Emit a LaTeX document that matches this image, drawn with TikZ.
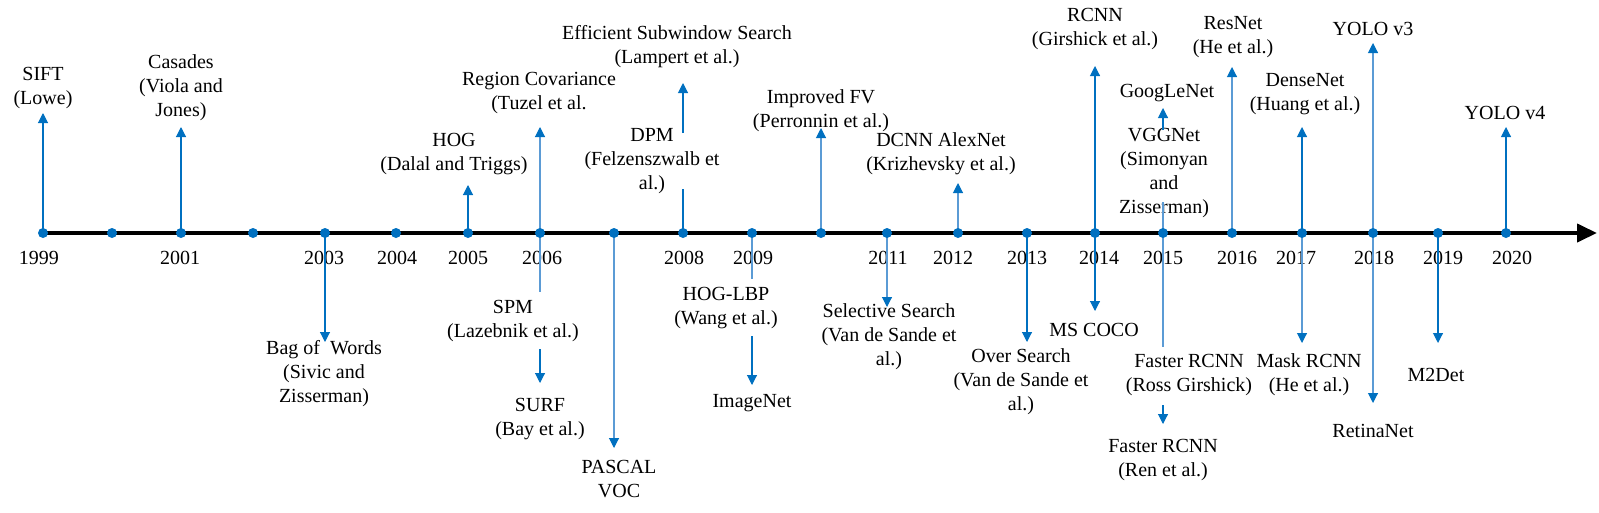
\documentclass[tikz,border=0pt]{standalone}
\usepackage{fontspec}
\setmainfont{Liberation Serif}
\usetikzlibrary{arrows.meta}
\definecolor{dotblue}{HTML}{0070C0}
\definecolor{lightblue}{HTML}{5B9BD5}
\begin{document}
\begin{tikzpicture}[x=1pt,y=-1pt,
  lbl/.style={font=\fontsize{20}{24}\selectfont, align=center, inner sep=0pt},
  yr/.style={font=\fontsize{20}{24}\selectfont, inner sep=0pt},
  dotnode/.style={circle, fill=dotblue, inner sep=0pt, minimum size=10pt},
  conn/.style={draw=dotblue, line width=1.1pt},
  lconn/.style={draw=lightblue, line width=1.1pt},
  arr/.style={conn, -{Triangle[width=10pt,length=10pt,color=dotblue,fill=dotblue]}},
  larr/.style={lconn, -{Triangle[width=10pt,length=10pt,color=dotblue,fill=dotblue]}},
  axis/.style={line width=4pt, draw=black, -{Triangle[width=18pt,length=20pt]}}
]
\useasboundingbox (0,0) rectangle (1599,512);

% ---------- axis ----------
\coordinate (axstart) at (43,233);
\coordinate (axend) at (1597,233);
\draw[axis] (axstart) -- (axend);

% ---------- dots (positions only, drawn later on top) ----------
\foreach \n/\x in {1999/43,2000/112,2001/181,2002/253,2003/325,2004/396,2005/468,2006/540,2007/614,2008/683,2009/752,2010/821,2011/887,2012/958,2013/1027,2014/1095,2015/1163,2016/1232,2017/1302,2018/1373,2019/1438,2020/1506}
  \coordinate (c\n) at (\x,233);

% ---------- year labels ----------
\foreach \n/\x in {1999/39,2001/180,2003/324,2004/397,2005/468,2006/542,2008/684,2009/753,2011/888,2012/953,2013/1027,2014/1099,2015/1163,2016/1237,2017/1296,2018/1374,2019/1443,2020/1512}
  \node[yr] (y\n) at (\x,258) {\n};

% ---------- labels above ----------
\node[lbl] (sift)    at (43,88)   {SIFT\\(Lowe)};
\node[lbl] (casades) at (181,88)  {Casades\\(Viola and\\Jones)};
\node[lbl] (hog)     at (454,154) {HOG\\(Dalal and Triggs)};
\node[lbl] (regcov)  at (539,93)  {Region Covariance\\(Tuzel et al.};
\node[lbl] (ess)     at (677,47)  {Efficient Subwindow Search\\(Lampert et al.)};
\node[lbl] (dpm)     at (652,161) {DPM\\(Felzenszwalb et\\al.)};
\node[lbl] (ifv)     at (821,111) {Improved FV\\(Perronnin et al.)};
\node[lbl] (alex)    at (941,154) {DCNN AlexNet\\(Krizhevsky et al.)};
\node[lbl] (rcnn)    at (1095,29) {RCNN\\(Girshick et al.)};
\node[lbl] (google)  at (1167,93) {GoogLeNet};
\node[lbl] (vgg)     at (1164,173) {VGGNet\\(Simonyan\\and\\Zisserman)};
\node[lbl] (resnet)  at (1233,37) {ResNet\\(He et al.)};
\node[lbl] (dense)   at (1305,94) {DenseNet\\(Huang et al.)};
\node[lbl] (yolo3)   at (1373,29) {YOLO v3};
\node[lbl] (yolo4)   at (1505,113) {YOLO v4};

% ---------- labels below ----------
\node[lbl] (bow)     at (324,374) {Bag of~~Words\\(Sivic and\\Zisserman)};
\node[lbl] (spm)     at (513,321) {SPM\\(Lazebnik et al.)};
\node[lbl] (surf)    at (540,419) {SURF\\(Bay et al.)};
\node[lbl] (pascal)  at (619,479) {PASCAL\\VOC};
\node[lbl] (hoglbp)  at (726,308) {HOG-LBP\\(Wang et al.)};
\node[lbl] (imagenet) at (752,403) {ImageNet};
\node[lbl] (selsearch) at (889,337) {Selective Search\\(Van de Sande et\\al.)};
\node[lbl] (oversearch) at (1021,382) {Over Search\\(Van de Sande et\\al.)};
\node[lbl] (mscoco)  at (1094,330) {MS COCO};
\node[lbl] (frcnnross) at (1189,375) {Faster RCNN\\(Ross Girshick)};
\node[lbl] (frcnnren)  at (1163,460) {Faster RCNN\\(Ren et al.)};
\node[lbl] (mask)    at (1309,375) {Mask RCNN\\(He et al.)};
\node[lbl] (retina)  at (1373,431) {RetinaNet};
\node[lbl] (m2det)   at (1436,375) {M2Det};

% ---------- connector end points ----------
\coordinate (tsift) at (43,113);
\coordinate (tcas) at (181,127);
\coordinate (thog) at (468,185);
\coordinate (treg) at (540,127);
\coordinate (essfrom) at (683,133);
\coordinate (essto) at (683,83);
\coordinate (edpm) at (683,189);
\coordinate (tifv) at (821,128);
\coordinate (talex) at (958,183);
\coordinate (trcnn) at (1095,66);
\coordinate (gfrom) at (1163,130);
\coordinate (gto) at (1163,108);
\coordinate (evgg) at (1163,202);
\coordinate (tres) at (1232,67);
\coordinate (tdense) at (1302,127);
\coordinate (ty3) at (1373,43);
\coordinate (ty4) at (1506,127);
\coordinate (tbow) at (325,342);
\coordinate (espm) at (540,292);
\coordinate (sfrom) at (540,349);
\coordinate (sto) at (540,383);
\coordinate (tpascal) at (614,448);
\coordinate (ehog) at (752,279);
\coordinate (ifrom) at (752,336);
\coordinate (ito) at (752,385);
\coordinate (tsel) at (887,307);
\coordinate (tover) at (1027,342);
\coordinate (tcoco) at (1095,311);
\coordinate (efr) at (1163,347);
\coordinate (ffrom) at (1163,405);
\coordinate (fto) at (1163,424);
\coordinate (tmask) at (1302,343);
\coordinate (tret) at (1373,403);
\coordinate (tm2) at (1438,343);

% ---------- connectors ----------
\draw[arr]  (c1999) -- (tsift);
\draw[arr]  (c2001) -- (tcas);
\draw[arr]  (c2005) -- (thog);
\draw[larr] (c2006) -- (treg);
\draw[arr]  (essfrom) -- (essto);
\draw[conn] (c2008) -- (edpm);
\draw[larr] (c2010) -- (tifv);
\draw[larr] (c2012) -- (talex);
\draw[arr]  (c2014) -- (trcnn);
\draw[arr]  (gfrom) -- (gto);
\draw[lconn] (c2015) -- (evgg);
\draw[larr] (c2016) -- (tres);
\draw[arr]  (c2017) -- (tdense);
\draw[larr] (c2018) -- (ty3);
\draw[arr]  (c2020) -- (ty4);

\draw[arr]  (c2003) -- (tbow);
\draw[lconn] (c2006) -- (espm);
\draw[arr]  (sfrom) -- (sto);
\draw[larr] (c2007) -- (tpascal);
\draw[lconn] (c2009) -- (ehog);
\draw[arr]  (ifrom) -- (ito);
\draw[larr] (c2011) -- (tsel);
\draw[arr]  (c2013) -- (tover);
\draw[arr]  (c2014) -- (tcoco);
\draw[lconn] (c2015) -- (efr);
\draw[arr]  (ffrom) -- (fto);
\draw[larr] (c2017) -- (tmask);
\draw[larr] (c2018) -- (tret);
\draw[arr]  (c2019) -- (tm2);

% ---------- dots on top ----------
\foreach \n in {1999,2000,2001,2002,2003,2004,2005,2006,2007,2008,2009,2010,2011,2012,2013,2014,2015,2016,2017,2018,2019,2020}
  \node[dotnode] (d\n) at (c\n) {};
\end{tikzpicture}
\end{document}
